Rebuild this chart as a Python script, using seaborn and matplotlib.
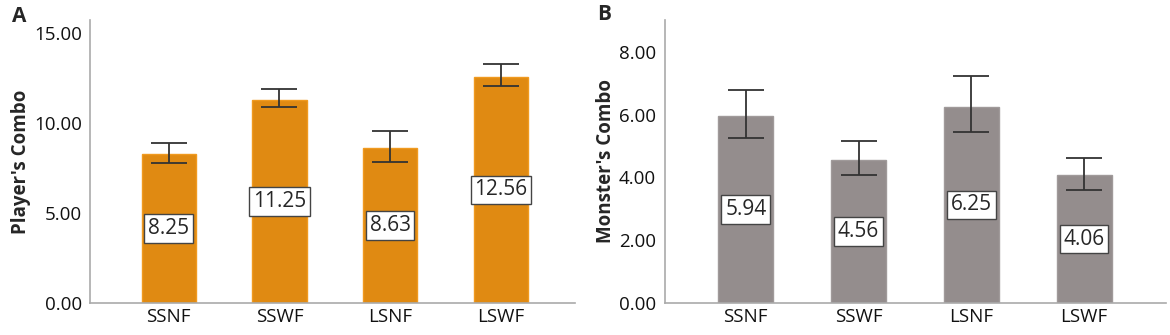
import numpy as np
import pandas as pd
import seaborn as sns
import matplotlib.pyplot as plt
from matplotlib.ticker import FormatStrFormatter

# data
conditions = ["SSNF", "SSWF", "LSNF", "LSWF"]
player_combo = [8.25, 11.25, 8.63, 12.56]
player_low = [7.76, 10.87, 7.85, 12.07]
player_high = [8.90, 11.87, 9.56, 13.28]
monster_combo = [5.94, 4.56, 6.25, 4.06]
monster_low = [5.24, 4.07, 5.43, 3.60]
monster_high = [6.78, 5.17, 7.23, 4.61]

sns.set_style("white")
plt.rcParams['font.family'] = ['Open Sans', 'DejaVu Sans']

fig = plt.figure(figsize=(11.7, 3.35), dpi=100)
ax_a = fig.add_axes([0.077, 0.0955, 0.4145, 0.845])
ax_b = fig.add_axes([0.568, 0.0955, 0.429, 0.845])

panels = [
    (ax_a, player_combo, player_low, player_high, "#E08A12", "#F09A20",
     "Player's Combo", (0, 15.72), [0, 5, 10, 15], (-0.71, 3.67)),
    (ax_b, monster_combo, monster_low, monster_high, "#948D8D", "#A09A9A",
     "Monster's Combo", (0, 9.01), [0, 2, 4, 6, 8], (-0.72, 3.73)),
]

for ax, vals, lo, hi, color, edge, ylab, ylim, yticks, xlim in panels:
    df = pd.DataFrame({"cond": conditions, "val": vals})
    sns.barplot(data=df, x="cond", y="val", color=color, width=0.49,
                saturation=1, edgecolor=edge, linewidth=1, ax=ax)
    v = np.array(vals)
    yerr = [v - np.array(lo), np.array(hi) - v]
    ax.errorbar(np.arange(len(conditions)), v, yerr=yerr, fmt="none",
                ecolor="#333333", elinewidth=1.3, capsize=13, capthick=1.3)
    for i, val in enumerate(vals):
        ax.text(i, val / 2, f"{val:.2f}", ha="center", va="center",
                fontsize=15,
                bbox=dict(boxstyle="square,pad=0.18", fc="white",
                          ec="#444444", lw=1))
    ax.set_ylim(*ylim)
    ax.set_xlim(*xlim)
    ax.set_yticks(yticks)
    ax.yaxis.set_major_formatter(FormatStrFormatter("%.2f"))
    ax.set_xlabel("")
    ax.set_ylabel(ylab, fontsize=13.5, fontweight="bold", labelpad=2)
    ax.tick_params(axis="both", length=0, labelsize=13.5, colors="#111111")
    ax.tick_params(axis="y", pad=6)
    for s in ["top", "right"]:
        ax.spines[s].set_visible(False)
    for s in ["left", "bottom"]:
        ax.spines[s].set_color("#AAAAAA")
        ax.spines[s].set_linewidth(1.2)

fig.text(12 / 1170, 1 - 16 / 335, "A", fontsize=15, fontweight="bold",
         ha="left", va="center")
fig.text(597 / 1170, 1 - 15 / 335, "B", fontsize=15, fontweight="bold",
         ha="left", va="center")

fig.savefig("out.png", dpi=100)
